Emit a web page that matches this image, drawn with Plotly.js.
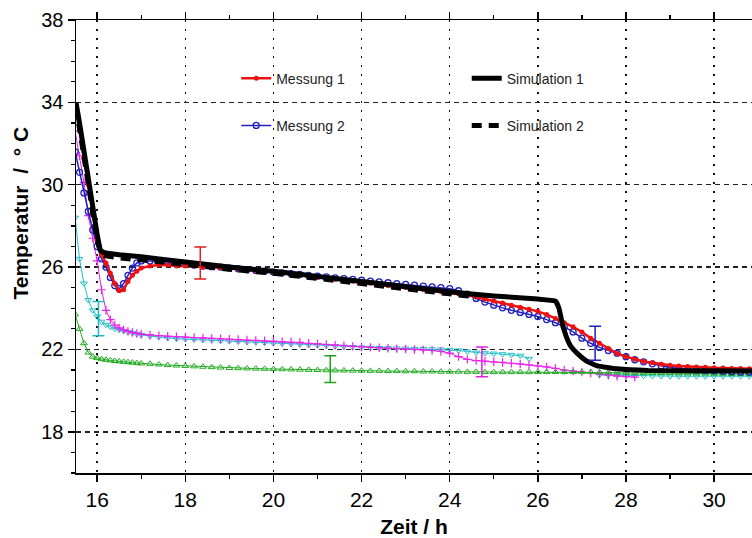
<!DOCTYPE html>
<html>
<head>
<meta charset="utf-8">
<script src="https://cdn.plot.ly/plotly-3.0.1.min.js"></script>
<style>html,body{margin:0;padding:0;background:#fff;}#chart{width:752px;height:538px;}</style>
</head>
<body>
<div id="chart"></div>
<script>
// Shared time grid (h)
const time_h = [
  15.5,15.6,15.7,15.8,15.9,16.0,16.1,16.2,16.3,16.4,16.5,16.6,16.7,16.8,16.9,
  17.0,17.2,17.4,17.6,17.8,
  18.0,18.2,18.4,18.6,18.8,
  19.0,19.2,19.4,19.6,19.8,
  20.0,20.2,20.4,20.6,20.8,
  21.0,21.2,21.4,21.6,21.8,
  22.0,22.2,22.4,22.6,22.8,
  23.0,23.2,23.4,23.6,23.8,
  24.0,24.2,24.4,24.6,24.8,
  25.0,25.2,25.4,25.6,25.8,
  26.0,26.2,26.4,26.6,26.8,
  27.0,27.2,27.4,27.6,27.8,
  28.0,28.2,28.4,28.6,28.8,
  29.0,29.2,29.4,29.6,29.8,
  30.0,30.2,30.4,30.6,30.8,
  31.0
];
const messung1 = [
  33.7,32.7,31.3,30.0,28.6,27.3,26.6,26.2,25.7,25.2,24.85,24.9,25.3,25.6,25.8,
  25.95,26.05,26.1,26.1,26.05,
  26.05,26.05,26.0,26.0,25.97,
  25.95,25.92,25.88,25.84,25.8,
  25.76,25.71,25.66,25.61,25.56,
  25.51,25.46,25.41,25.36,25.31,
  25.26,25.21,25.16,25.11,25.06,
  25.01,24.96,24.91,24.86,24.81,
  24.76,24.71,24.64,24.55,24.45,
  24.35,24.25,24.15,24.05,23.95,
  23.85,23.7,23.5,23.3,23.1,
  22.85,22.55,22.3,22.05,21.8,
  21.65,21.52,21.42,21.35,21.28,
  21.23,21.2,21.17,21.15,21.13,
  21.11,21.1,21.08,21.07,21.06,
  21.05
];
const messung2 = [
  31.6,30.6,29.6,28.7,27.8,27.0,26.4,26.0,25.5,25.1,24.95,25.2,25.6,25.95,26.2,
  26.3,26.3,26.28,26.25,26.2,
  26.15,26.1,26.05,26.02,26.0,
  25.96,25.92,25.88,25.84,25.8,
  25.76,25.72,25.68,25.64,25.6,
  25.56,25.52,25.48,25.44,25.4,
  25.36,25.32,25.28,25.24,25.2,
  25.16,25.12,25.08,25.04,25.0,
  24.95,24.85,24.68,24.48,24.3,
  24.15,24.02,23.9,23.8,23.7,
  23.6,23.45,23.3,23.1,22.85,
  22.55,22.3,22.1,21.95,21.82,
  21.65,21.5,21.4,21.3,21.2,
  21.12,21.07,21.03,21.0,20.98,
  20.96,20.94,20.92,20.91,20.9,
  20.9
];
const magentaSeries = [
  32.6,31.4,30.1,28.5,27.4,26.3,24.9,23.9,23.45,23.18,23.05,22.95,22.88,22.82,22.78,
  22.74,22.7,22.67,22.64,22.62,
  22.6,22.58,22.56,22.54,22.52,
  22.5,22.48,22.46,22.44,22.42,
  22.4,22.38,22.36,22.34,22.3,
  22.27,22.24,22.21,22.18,22.15,
  22.12,22.1,22.08,22.06,22.04,
  22.02,22.0,21.98,21.95,21.9,
  21.82,21.65,21.52,21.46,21.43,
  21.4,21.37,21.33,21.3,21.25,
  21.2,21.15,21.08,21.0,20.95,
  20.9,20.85,20.8,20.75,20.7,
  20.68,20.66,null,null,null,
  null,null,null,null,null,
  null,null,null,null,null,
  null
];
const cyanSeries = [
  28.4,26.4,25.2,24.4,23.9,23.6,23.35,23.2,23.1,23.0,22.95,22.9,22.85,22.8,22.75,
  22.7,22.65,22.6,22.55,22.52,
  22.5,22.48,22.46,22.44,22.42,
  22.4,22.38,22.36,22.34,22.32,
  22.3,22.28,22.26,22.24,22.22,
  22.2,22.18,22.16,22.14,22.12,
  22.1,22.08,22.07,22.06,22.05,
  22.04,22.03,22.02,22.01,22.0,
  21.98,21.95,21.9,21.85,21.82,
  21.8,21.77,21.74,21.7,21.55,
  null,null,null,null,null,
  null,null,20.76,20.75,20.74,
  20.73,20.72,20.72,20.71,20.71,
  20.7,20.7,20.7,20.7,20.7,
  20.7,20.7,20.7,20.7,20.7,
  20.7
];
const greenSeries = [
  23.7,23.0,22.3,21.85,21.65,21.58,21.53,21.5,21.47,21.44,21.42,21.4,21.38,21.36,21.34,
  21.32,21.3,21.27,21.24,21.22,
  21.2,21.18,21.16,21.14,21.12,
  21.1,21.09,21.08,21.07,21.06,
  21.05,21.04,21.03,21.02,21.01,
  21.0,20.99,20.98,20.98,20.97,
  20.97,20.96,20.96,20.95,20.95,
  20.94,20.94,20.93,20.93,20.92,
  20.92,20.92,20.91,20.91,20.9,
  20.9,20.9,20.9,20.9,20.9,
  20.9,20.9,20.9,20.9,20.9,
  20.9,20.9,20.89,20.88,20.87,
  20.86,20.85,20.85,20.85,20.85,
  20.85,20.84,20.84,20.83,20.83,
  20.82,20.82,20.81,20.81,20.8,
  20.8
];
// Simulations
const sim1_t = [15.52,15.6,15.8,16.0,16.08,16.15,16.5,17,18,19,20,21,22,23,24,25,26,26.4,26.48,26.55,26.65,26.75,26.9,27.1,27.35,27.8,28.5,31];
const sim1_y = [34.0,33.0,30.3,27.6,26.8,26.72,26.6,26.5,26.25,26.0,25.8,25.55,25.3,25.05,24.8,24.6,24.45,24.35,24.0,23.3,22.6,22.15,21.8,21.45,21.2,21.06,20.98,20.95];
const sim2_t = [15.52,15.6,15.8,16.0,16.1,16.2,16.5,17,18,19,20,21,22,23,24,24.6];
const sim2_y = [33.8,32.8,30.0,27.3,26.6,26.55,26.45,26.35,26.1,25.9,25.7,25.45,25.2,24.95,24.7,24.55];
// Error bars
const err_t = [18.34, 16.03, 21.29, 24.73, 27.3];
const err_y = [26.2, 23.5, 21.05, 21.4, 22.3];
const err_half = [0.78, 0.83, 0.65, 0.72, 0.83];
const err_color = ['#e02020', '#20b8c0', '#20a020', '#e020e0', '#2020c0'];
// Labels
const xTitle = 'Zeit / h';
const yTitle = 'Temperatur\u00a0 /\u00a0 °\u00a0C';
const names = ['Messung 1', 'Messung 2', 'Simulation 1', 'Simulation 2'];

const FONT = 'Liberation Sans, Arial, sans-serif';
const traces = [];
traces.push({x: time_h, y: cyanSeries, mode: 'lines+markers', showlegend: false,
  line: {color: '#20c0c8', width: 1}, marker: {symbol: 'triangle-down-open', size: 6, color: '#20c0c8', line: {width: 1}}});
traces.push({x: time_h, y: magentaSeries, mode: 'lines+markers', showlegend: false,
  line: {color: '#ee22ee', width: 1}, marker: {symbol: 'cross-thin-open', size: 6, color: '#ee22ee', line: {width: 1.2, color: '#ee22ee'}}});
traces.push({x: time_h, y: greenSeries, mode: 'lines+markers', showlegend: false,
  line: {color: '#22aa22', width: 1}, marker: {symbol: 'triangle-up-open', size: 6, color: '#22aa22', line: {width: 1}}});
traces.push({x: time_h, y: messung2, name: names[1], mode: 'lines+markers', legend: 'legend', legendgroup: 'm2', legendrank: 2,
  line: {color: '#2020c0', width: 1.5}, marker: {symbol: 'circle-open', size: 6, color: '#2020c0', line: {width: 1.3}}});
traces.push({x: time_h, y: messung1, name: names[0], mode: 'lines+markers', legend: 'legend', legendgroup: 'm1', legendrank: 1,
  line: {color: '#ee1111', width: 2.5}, marker: {symbol: 'circle', size: 5, color: '#ee1111'}});
traces.push({x: sim2_t, y: sim2_y, name: names[3], mode: 'lines', legend: 'legend2', legendgroup: 's2', legendrank: 2,
  line: {color: '#000', width: 5, dash: '10px,7px'}});
traces.push({x: sim1_t, y: sim1_y, name: names[2], mode: 'lines', legend: 'legend2', legendgroup: 's1', legendrank: 1,
  line: {color: '#000', width: 5, shape: 'spline', smoothing: 0.3}});
for (let i = 0; i < err_t.length; i++) {
  traces.push({x: [err_t[i]], y: [err_y[i]], mode: 'markers', showlegend: false, hoverinfo: 'skip',
    marker: {size: 2, color: 'rgba(0,0,0,0)'},
    error_y: {type: 'data', array: [err_half[i]], visible: true, color: err_color[i], thickness: 1.5, width: 6}});
}

const legendCommon = {xanchor: 'left', yanchor: 'top', bgcolor: 'rgba(0,0,0,0)', borderwidth: 0,
  font: {family: FONT, size: 14, color: '#222'}, tracegroupgap: 26, orientation: 'v'};

const layout = {
  width: 752, height: 538,
  margin: {l: 76, r: 0, t: 20, b: 65},
  paper_bgcolor: '#fff', plot_bgcolor: '#fff',
  showlegend: true,
  legend: Object.assign({x: 0.237, y: 0.906}, legendCommon),
  legend2: Object.assign({x: 0.578, y: 0.906}, legendCommon),
  xaxis: {
    range: [15.52, 30.86], tick0: 16, dtick: 2, ticks: 'outside', ticklen: 7, tickwidth: 1.5, tickcolor: '#000',
    showline: true, linecolor: '#000', linewidth: 1.5, mirror: 'ticks',
    showgrid: true, gridcolor: '#111', gridwidth: 1.5, griddash: '2px,7px',
    zeroline: false,
    tickfont: {family: FONT, size: 21, color: '#000'},
    minor: {dtick: 1, ticks: 'outside', ticklen: 4, tickwidth: 1.2, tickcolor: '#000', showgrid: false},
    title: {text: xTitle, font: {family: FONT, size: 21, color: '#000', weight: 'bold'}, standoff: 12}
  },
  yaxis: {
    range: [16, 38], tick0: 18, dtick: 4, ticks: 'outside', ticklen: 7, tickwidth: 1.5, tickcolor: '#000',
    showline: true, linecolor: '#000', linewidth: 1.5, mirror: false,
    showgrid: true, gridcolor: '#222', gridwidth: 1.5, griddash: '5px,4px',
    zeroline: false,
    tickfont: {family: FONT, size: 20, color: '#000'},
    minor: {dtick: 1, ticks: 'outside', ticklen: 4, tickwidth: 1.2, tickcolor: '#000', showgrid: false}
  },
  annotations: [{
    text: yTitle, xref: 'paper', yref: 'paper', x: -0.0814, y: 0.575, textangle: -90,
    xanchor: 'center', yanchor: 'middle', showarrow: false,
    font: {family: FONT, size: 21, color: '#000', weight: 'bold'}
  }]
};

Plotly.newPlot('chart', traces, layout, {staticPlot: true, displayModeBar: false});
</script>
</body>
</html>
